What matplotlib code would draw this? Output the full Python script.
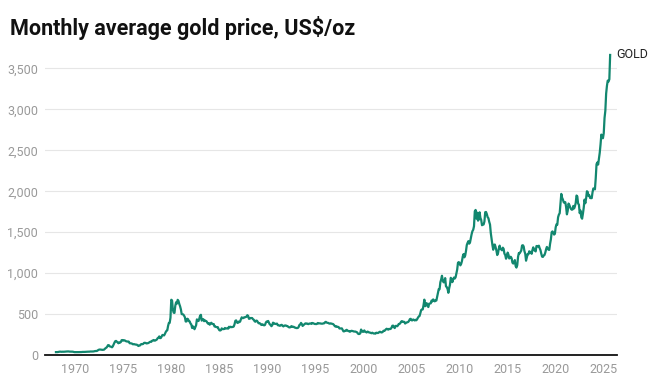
import numpy as np
import matplotlib
matplotlib.use("Agg")
import matplotlib.pyplot as plt

# monthly average gold price, US$/oz, starting Jan 1968 (one row per year)
start_year = 1968
gold_price = [
    35.2, 35.2, 35.5, 37.8, 40.7, 41.1, 39.5, 39.2, 40.0, 39.4, 39.9, 41.0,   # 1968
    42.3, 42.6, 43.3, 43.4, 43.5, 41.5, 41.8, 41.0, 40.9, 40.5, 37.4, 35.2,   # 1969
    34.9, 35.0, 35.1, 35.6, 35.9, 35.4, 35.3, 35.4, 36.2, 37.5, 37.4, 37.4,   # 1970
    37.9, 38.7, 38.9, 39.0, 40.5, 40.1, 41.0, 42.7, 42.0, 42.5, 42.9, 43.5,   # 1971
    45.7, 48.3, 48.3, 49.0, 54.6, 62.1, 65.7, 67.0, 65.5, 64.9, 62.9, 63.9,   # 1972
    65, 74, 84, 90, 102, 120, 120, 106, 103, 100, 94, 106,                    # 1973
    129, 150, 168, 172, 163, 154, 143, 154, 151, 158, 181, 183,               # 1974
    176, 180, 178, 170, 167, 164, 165, 163, 144, 143, 142, 139,               # 1975
    131, 131, 132, 128, 127, 126, 118, 110, 115, 117, 130, 134,               # 1976
    132, 136, 148, 149, 147, 141, 143, 145, 150, 158, 162, 161,               # 1977
    173, 178, 183, 175, 177, 183, 189, 206, 212, 227, 206, 208,               # 1978
    227, 245, 242, 239, 257, 279, 295, 301, 355, 392, 392, 456,               # 1979
    675, 665, 553, 517, 514, 600, 644, 627, 674, 661, 623, 595,               # 1980
    557, 500, 498, 495, 480, 461, 409, 410, 443, 437, 413, 410,               # 1981
    384, 374, 330, 350, 334, 315, 339, 364, 435, 422, 415, 444,               # 1982
    481, 491, 420, 432, 438, 413, 423, 416, 412, 394, 382, 388,               # 1983
    370, 386, 394, 381, 377, 378, 348, 348, 341, 340, 341, 320,               # 1984
    303, 299, 304, 325, 316, 317, 317, 330, 324, 325, 325, 322,               # 1985
    345, 338, 345, 340, 342, 343, 348, 376, 418, 423, 398, 391,               # 1986
    408, 401, 409, 438, 460, 450, 451, 461, 460, 465, 467, 486,               # 1987
    477, 442, 444, 452, 451, 451, 437, 431, 413, 406, 420, 419,               # 1988
    404, 388, 390, 384, 371, 367, 375, 366, 362, 367, 394, 409,               # 1989
    410, 416, 393, 374, 369, 352, 362, 395, 390, 380, 381, 378,               # 1990
    384, 364, 363, 358, 357, 367, 368, 356, 349, 359, 360, 361,               # 1991
    354, 354, 345, 338, 337, 341, 353, 343, 345, 344, 335, 334,               # 1992
    329, 330, 330, 342, 367, 372, 392, 379, 355, 364, 374, 383,               # 1993
    387, 382, 384, 377, 381, 385, 385, 380, 391, 389, 384, 379,               # 1994
    379, 377, 382, 391, 385, 387, 386, 383, 383, 383, 386, 387,               # 1995
    400, 405, 396, 393, 392, 385, 383, 387, 383, 381, 378, 369,               # 1996
    355, 347, 352, 344, 344, 341, 324, 324, 323, 325, 306, 289,               # 1997
    289, 297, 296, 308, 299, 292, 293, 284, 289, 296, 294, 291,               # 1998
    287, 287, 286, 282, 277, 262, 256, 257, 265, 311, 293, 283,               # 1999
    284, 300, 286, 280, 275, 286, 282, 275, 274, 270, 266, 272,               # 2000
    266, 262, 263, 261, 272, 270, 268, 273, 283, 283, 276, 276,               # 2001
    282, 296, 294, 302, 314, 321, 314, 310, 319, 317, 319, 333,               # 2002
    357, 359, 340, 329, 355, 356, 351, 360, 379, 379, 389, 407,               # 2003
    414, 405, 406, 404, 384, 392, 398, 400, 405, 420, 439, 442,               # 2004
    424, 423, 434, 429, 422, 430, 424, 437, 456, 470, 476, 510,               # 2005
    549, 555, 557, 610, 676, 596, 633, 632, 598, 586, 627, 629,               # 2006
    631, 665, 654, 679, 667, 655, 665, 665, 712, 754, 806, 803,               # 2007
    889, 922, 968, 909, 888, 890, 939, 839, 829, 806, 760, 816,               # 2008
    858, 943, 924, 890, 928, 946, 934, 949, 996, 1043, 1127, 1135,            # 2009
    1118, 1095, 1114, 1149, 1205, 1233, 1193, 1215, 1271, 1343, 1370, 1391,   # 2010
    1360, 1374, 1424, 1474, 1512, 1529, 1573, 1756, 1772, 1666, 1739, 1641,   # 2011
    1656, 1743, 1674, 1650, 1585, 1596, 1594, 1630, 1744, 1747, 1722, 1684,   # 2012
    1671, 1627, 1593, 1487, 1414, 1343, 1286, 1347, 1349, 1316, 1275, 1221,   # 2013
    1244, 1300, 1336, 1299, 1288, 1279, 1311, 1296, 1238, 1222, 1176, 1200,   # 2014
    1251, 1227, 1179, 1198, 1199, 1181, 1128, 1117, 1125, 1159, 1086, 1068,   # 2015
    1097, 1199, 1246, 1242, 1260, 1276, 1337, 1341, 1326, 1267, 1236, 1152,   # 2016
    1192, 1234, 1231, 1267, 1246, 1260, 1236, 1283, 1315, 1280, 1284, 1265,   # 2017
    1331, 1331, 1325, 1335, 1304, 1281, 1238, 1202, 1198, 1215, 1221, 1250,   # 2018
    1291, 1320, 1300, 1286, 1284, 1359, 1413, 1500, 1510, 1495, 1471, 1480,   # 2019
    1560, 1597, 1592, 1683, 1715, 1732, 1847, 1968, 1921, 1900, 1866, 1858,   # 2020
    1867, 1808, 1718, 1760, 1850, 1834, 1807, 1785, 1775, 1777, 1821, 1790,   # 2021
    1817, 1856, 1948, 1937, 1849, 1837, 1733, 1764, 1681, 1665, 1726, 1798,   # 2022
    1898, 1854, 1913, 2000, 1992, 1942, 1951, 1918, 1916, 1916, 1987, 2034,   # 2023
    2033, 2023, 2159, 2331, 2352, 2326, 2399, 2470, 2571, 2692, 2651, 2648,   # 2024
    2709, 2895, 2984, 3193, 3288, 3352, 3340, 3368, 3665,                     # 2025
]
year_ticks = [1970, 1975, 1980, 1985, 1990, 1995, 2000, 2005, 2010, 2015, 2020, 2025]
price_ticks = [0, 500, 1000, 1500, 2000, 2500, 3000, 3500]
series_label = "GOLD"
title = "Monthly average gold price, US$/oz"

plt.rcParams['font.family'] = ['Roboto', 'DejaVu Sans']

W, H = 652, 384
fig = plt.figure(figsize=(W / 100, H / 100), dpi=100)

# axes placed in pixel coordinates of the reference
left, right, bottom, top = 45, 617, 355, 48
ax = fig.add_axes([left / W, (H - bottom) / H, (right - left) / W, (bottom - top) / H])

t = start_year + np.arange(len(gold_price)) / 12
line_color = "#12876f"
ax.plot(t, gold_price, color=line_color, lw=1.6, solid_joinstyle="round")

ax.set_xlim(1966.86, 2026.38)
ax.set_ylim(0, 3750)

ax.set_yticks(price_ticks)
ax.set_yticklabels([f"{v:,}" for v in price_ticks])
ax.set_xticks(year_ticks)
ax.set_xticklabels([str(y) for y in year_ticks])
ax.tick_params(axis="both", length=0, labelsize=9, colors="#999999")
ax.tick_params(axis="y", pad=5)
ax.tick_params(axis="x", pad=6)

ax.grid(axis="y", color="#e6e6e6", lw=0.8)
ax.set_axisbelow(True)
for s in ["top", "right", "left"]:
    ax.spines[s].set_visible(False)
ax.spines["bottom"].set_color("#111111")
ax.spines["bottom"].set_linewidth(1.3)
ax.spines["bottom"].set_zorder(3)

ax.annotate(series_label, xy=(t[-1], gold_price[-1]), xytext=(4.5, 0),
            textcoords="offset points", fontsize=9, color="#222222",
            va="center", ha="left", annotation_clip=False)

fig.text(10 / W, 1 - 28 / H, title, fontsize=15.5, fontweight="bold",
         color="#111111", va="center", ha="left")

fig.savefig("out.png", dpi=100)
